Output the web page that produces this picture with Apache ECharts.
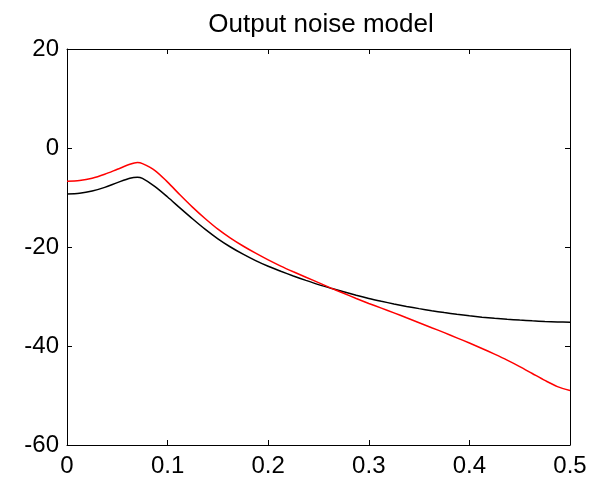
<!DOCTYPE html>
<html lang="en">
<head>
    <meta charset="UTF-8">
    <title>Output noise model</title>
    <script src="https://cdn.jsdelivr.net/npm/echarts@6/dist/echarts.min.js"></script>
</head>
<body style="margin:0;">
    <div id="main" style="width: 594px;height:485px;"></div>
</body>
<script>
    // frequency points (step 0.0125, plus the peak) and the two spectra
    var freq = [0, 0.0125, 0.025, 0.0375, 0.05, 0.0625, 0.07, 0.075, 0.0875, 0.1, 0.1125,
        0.125, 0.1375, 0.15, 0.1625, 0.175, 0.1875, 0.2, 0.2125, 0.225, 0.2375,
        0.25, 0.2625, 0.275, 0.2875, 0.3, 0.3125, 0.325, 0.3375, 0.35, 0.3625,
        0.375, 0.3875, 0.4, 0.4125, 0.425, 0.4375, 0.45, 0.4625, 0.475, 0.4875, 0.5];
    var blackDb = [-9.3, -9.15, -8.7, -7.95, -7.0, -6.1, -5.9, -6.15, -7.8, -9.9, -12.15,
        -14.35, -16.45, -18.35, -20.0, -21.45, -22.75, -23.9, -24.9, -25.85, -26.75,
        -27.6, -28.35, -29.05, -29.75, -30.4, -30.97, -31.5, -32.0, -32.45, -32.87,
        -33.25, -33.6, -33.9, -34.17, -34.4, -34.6, -34.77, -34.92, -35.04, -35.13, -35.2];
    var redDb = [-6.7, -6.55, -6.1, -5.3, -4.3, -3.3, -2.95, -3.15, -4.55, -6.9, -9.5,
        -12.0, -14.3, -16.4, -18.2, -19.8, -21.25, -22.6, -23.85, -25.0, -26.1,
        -27.2, -28.3, -29.35, -30.4, -31.4, -32.35, -33.3, -34.3, -35.3, -36.3,
        -37.3, -38.35, -39.4, -40.5, -41.65, -42.85, -44.15, -45.55, -46.95, -48.2, -49.0];
    var xTicks = [0, 0.1, 0.2, 0.3, 0.4, 0.5];
    var yTicks = [-60, -40, -20, 0, 20];

    function pairs(ys) {
        return freq.map(function (f, i) { return [f, ys[i]]; });
    }

    var font = 'Liberation Sans, Arial, Helvetica, sans-serif';
    var lineCol = '#000';

    function axisBase(show) {
        return {
            axisLine: { show: true, onZero: false, lineStyle: { color: lineCol, width: 1 } },
            axisTick: { show: true, inside: true, length: 5, lineStyle: { color: lineCol } },
            axisLabel: { show: show, color: '#000', fontSize: 24, fontFamily: font },
            splitLine: { show: false }
        };
    }

    var xMain = Object.assign(axisBase(true), {
        type: 'value', position: 'bottom', min: xTicks[0], max: xTicks[xTicks.length - 1], interval: 0.1
    });
    xMain.axisLabel.margin = 9;
    var xTop = Object.assign(axisBase(false), {
        type: 'value', position: 'top', min: xTicks[0], max: xTicks[xTicks.length - 1], interval: 0.1
    });
    var yMain = Object.assign(axisBase(true), {
        type: 'value', position: 'left', min: yTicks[0], max: yTicks[yTicks.length - 1], interval: 20
    });
    yMain.axisLabel.margin = 8;
    var yRight = Object.assign(axisBase(false), {
        type: 'value', position: 'right', min: yTicks[0], max: yTicks[yTicks.length - 1], interval: 20
    });

    var myChart = echarts.init(document.getElementById('main'));
    myChart.setOption({
        backgroundColor: '#fff',
        animation: false,
        title: {
            text: 'Output noise model',
            left: 316, top: 7, textAlign: 'center',
            textStyle: { color: '#000', fontSize: 26, fontWeight: 'normal', fontFamily: font }
        },
        grid: { left: 67, right: 24, top: 49, bottom: 40 },
        xAxis: [xMain, xTop],
        yAxis: [yMain, yRight],
        series: [{
            type: 'line', name: 'black', data: pairs(blackDb), showSymbol: false, smooth: 0.3,
            lineStyle: { color: '#000', width: 1.5 }
        }, {
            type: 'line', name: 'red', data: pairs(redDb), showSymbol: false, smooth: 0.3,
            lineStyle: { color: '#ff0000', width: 1.5 }
        }]
    });
</script>
</html>
